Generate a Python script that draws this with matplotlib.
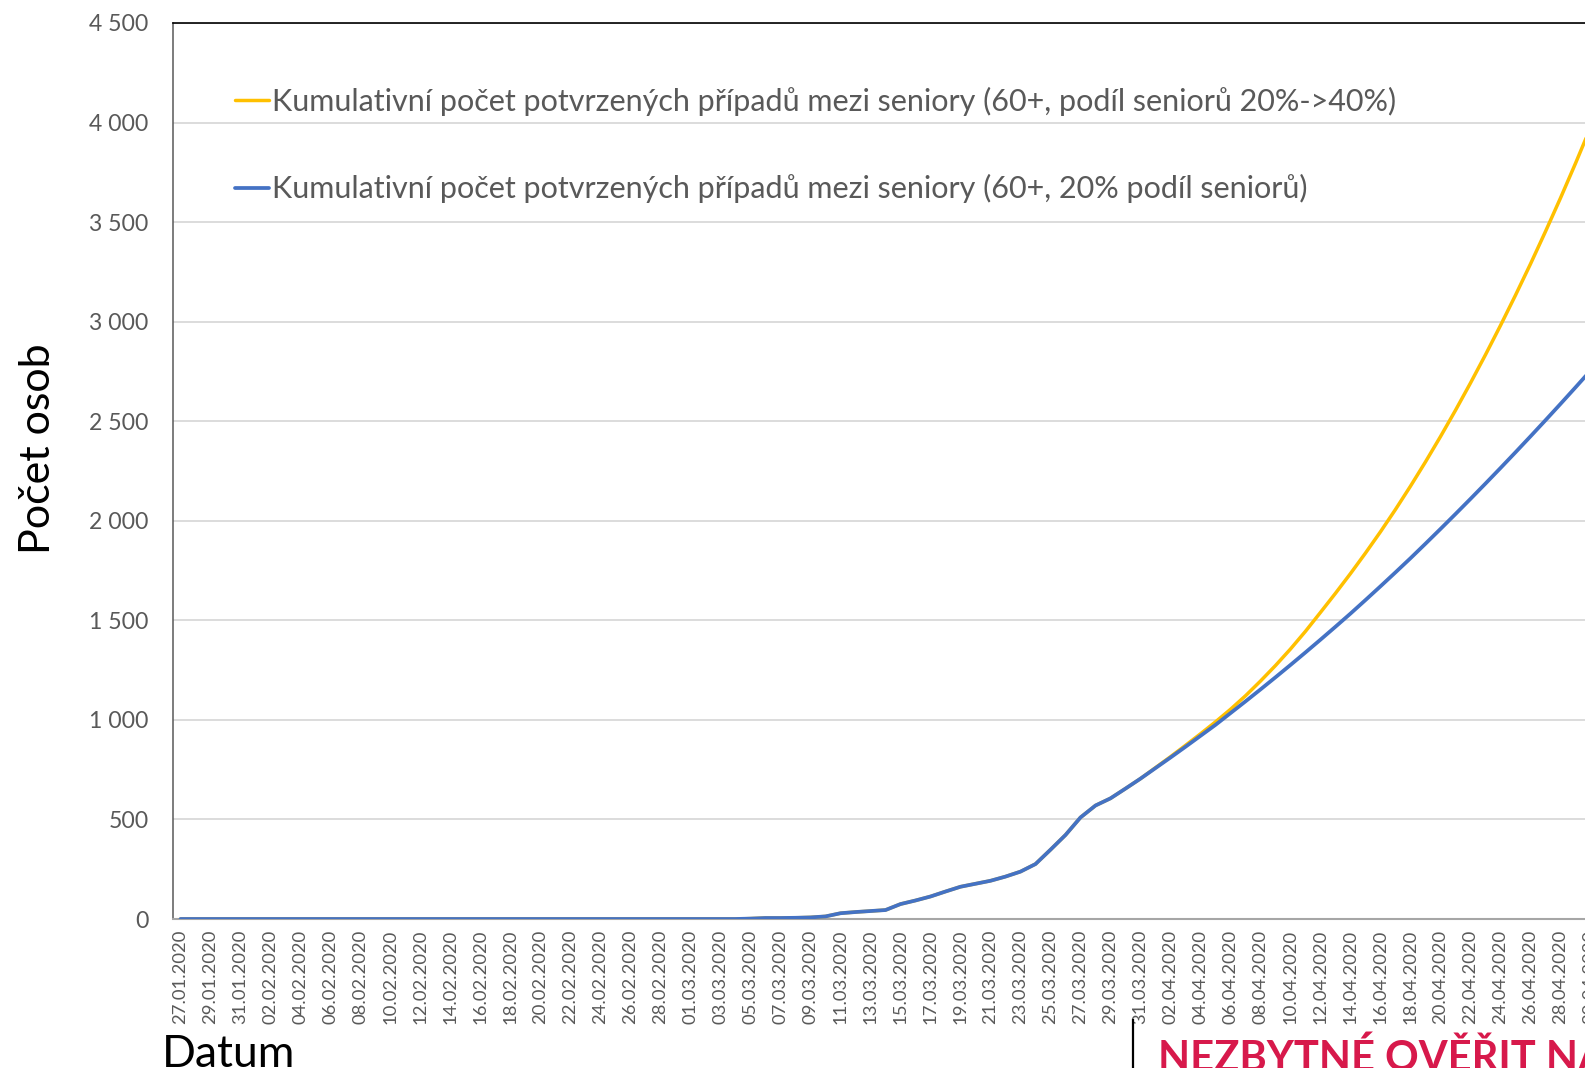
import matplotlib
matplotlib.use("Agg")
import matplotlib.pyplot as plt
from matplotlib.lines import Line2D
from matplotlib.ticker import FuncFormatter, MultipleLocator
import pandas as pd

plt.rcParams['font.family'] = ['Lato', 'DejaVu Sans']

# ---------------- data ----------------
start_date = "2020-01-27"
zeros_before = 38  # 27.01. .. 04.03. all zero
blue_tail = [2, 5, 5, 6, 8, 13, 29, 35, 40, 45, 75, 93, 113, 138, 162, 177, 192,
             213, 238, 276, 348, 422, 510, 570, 606, 655, 705, 758, 811, 865, 920,
             975, 1034, 1093, 1153, 1214, 1276, 1339, 1403, 1468, 1534, 1602, 1671,
             1741, 1812, 1885, 1959, 2034, 2110, 2187, 2265, 2344, 2424, 2505, 2587,
             2670, 2754, 2840]
yellow_tail = [2, 5, 5, 6, 8, 13, 29, 35, 40, 45, 75, 93, 113, 138, 162, 177, 192,
               213, 238, 276, 348, 422, 510, 570, 606, 655, 705, 760, 815, 872, 930,
               990, 1053, 1121, 1195, 1273, 1356, 1445, 1540, 1636, 1735, 1838, 1945,
               2057, 2174, 2296, 2423, 2555, 2692, 2834, 2981, 3133, 3290, 3453, 3621,
               3795, 3975, 4160]
blue = [0] * zeros_before + blue_tail
yellow = [0] * zeros_before + yellow_tail
labels_series = [
    "Kumulativní počet potvrzených případů mezi seniory (60+, podíl seniorů 20%->40%)",
    "Kumulativní počet potvrzených případů mezi seniory (60+, 20% podíl seniorů)",
]
n = len(blue)
dates = pd.date_range(start_date, periods=n, freq="D").strftime("%d.%m.%Y").tolist()

# ---------------- figure ----------------
W, H = 1585, 1068
fig = plt.figure(figsize=(W / 100, H / 100), dpi=100)
cat_w = 15.0
left, top, bottom = 173, 23, 919
ax = fig.add_axes([left / W, (H - bottom) / H, (n * cat_w) / W, (bottom - top) / H])

x = list(range(n))
ax.plot(x, yellow, color="#FFC000", lw=2.5, label=labels_series[0], solid_capstyle="round", zorder=3)
ax.plot(x, blue, color="#4472C4", lw=2.7, label=labels_series[1], solid_capstyle="round", zorder=4)

ax.set_xlim(-0.5, n - 0.5)
ax.set_ylim(0, 4500)
ax.yaxis.set_major_locator(MultipleLocator(500))
ax.yaxis.set_major_formatter(FuncFormatter(lambda v, p: f"{int(v):,}".replace(",", " ")))
ax.set_xticks(x[::2])
ax.set_xticklabels(dates[::2], rotation=90, va="top", ha="center")

ax.tick_params(axis="x", length=0, pad=8, labelsize=13.3, labelcolor="#595959")
ax.tick_params(axis="y", length=0, pad=17.5, labelsize=16.6, labelcolor="#595959")

ax.yaxis.grid(True, color="#D9D9D9", lw=1.3)
ax.set_axisbelow(True)

ax.spines["top"].set_color("#000000")
ax.spines["top"].set_linewidth(1.2)
ax.spines["left"].set_color("#595959")
ax.spines["left"].set_linewidth(1.1)
ax.spines["bottom"].set_color("#A6A6A6")
ax.spines["bottom"].set_linewidth(1.5)
ax.spines["right"].set_visible(False)

leg = ax.legend(loc="upper left", bbox_to_anchor=((235 - left) / (n * cat_w), 1 - (87 - top) / (bottom - top)),
                frameon=False, fontsize=22, handlelength=1.1, handletextpad=0.1,
                labelspacing=1.9, borderpad=0, borderaxespad=0)
for t in leg.get_texts():
    t.set_color("#595959")

fig.text(38 / W, 1 - 449 / H, "Počet osob", rotation=90, ha="center", va="center",
         fontsize=31, color="black")
fig.text(162 / W, 1 - 1067 / H, "Datum", ha="left", va="baseline", fontsize=32, color="black")
fig.text(1158 / W, 1 - 1071 / H, "NEZBYTNÉ OVĚŘIT NA DATECH", ha="left", va="baseline",
         fontsize=30, fontweight="bold", color="#D7194B")
fig.add_artist(Line2D([1133 / W, 1133 / W], [1 - 1020 / H, 0], transform=fig.transFigure,
                      color="black", lw=1.6))

fig.savefig("out.png", dpi=100)
